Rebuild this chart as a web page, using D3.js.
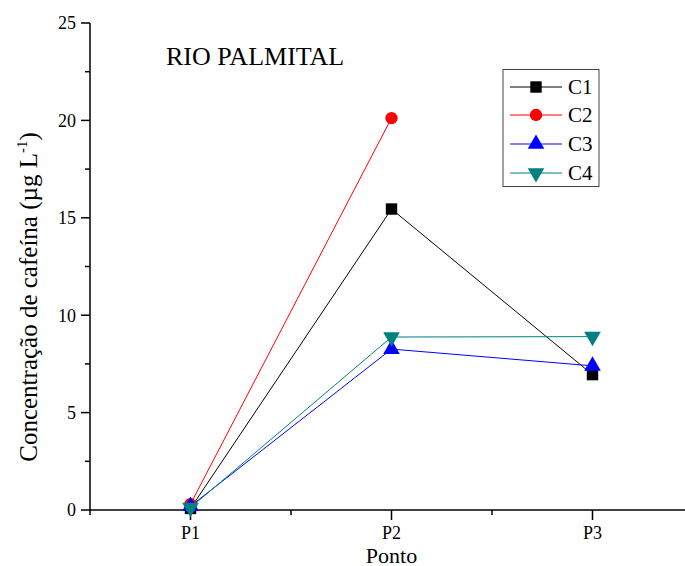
<!DOCTYPE html>
<html><head><meta charset="utf-8">
<script src="https://cdn.jsdelivr.net/npm/d3@7"></script>
<style>body{margin:0;background:#fff}svg{display:block}text{font-family:"Liberation Serif","Times New Roman",serif;fill:#000}</style>
</head><body>
<svg id="c" width="685" height="566"></svg>
<script>
const categories = ["P1","P2","P3"];
const seriesNames = ["C1","C2","C3","C4"];
const C1 = [0.08, 15.45, 6.95];
const C2 = [0.3, 20.12, null];
const C3 = [0.2, 8.26, 7.4];
const C4 = [0.12, 8.88, 8.9];
const yTicks = [0,5,10,15,20,25];
const colors = ["#000000","#ff0000","#0000ff","#008080"];
const symbols = [d3.symbolSquare, d3.symbolCircle, d3.symbolTriangle, "down"];
const values = [C1,C2,C3,C4];
const FF = "Liberation Serif";

const svg = d3.select("#c");
const x = d3.scaleLinear().domain([0.5,3.5]).range([90,693]);
const y = d3.scaleLinear().domain([0,25]).range([510,23]);

// y axis
const gy = svg.append("g").attr("transform","translate(90,0)");
gy.append("line").attr("x1",0).attr("x2",0).attr("y1",y(0)).attr("y2",y(25)).attr("stroke","#000").attr("stroke-width",1.5);
d3.range(0,25.01,2.5).forEach(v=>{
  const major = v%5===0;
  gy.append("line").attr("x1",0).attr("x2",major?-9:-5).attr("y1",y(v)).attr("y2",y(v)).attr("stroke","#000").attr("stroke-width",1.5);
});
gy.selectAll("text.yt").data(yTicks).join("text").attr("class","yt")
  .attr("x",-14).attr("y",d=>y(d)).attr("dy","0.35em").attr("text-anchor","end")
  .attr("font-family",FF).attr("font-size",18).attr("fill","#000").text(d=>d);

// x axis
const gx = svg.append("g").attr("transform","translate(0,510)");
gx.append("line").attr("x1",x(0.5)).attr("x2",x(3.5)).attr("stroke","#000").attr("stroke-width",1.5);
d3.range(0.5,3.51,0.5).forEach(v=>{
  const major = Number.isInteger(v);
  gx.append("line").attr("x1",x(v)).attr("x2",x(v)).attr("y1",0).attr("y2",major?10:5).attr("stroke","#000").attr("stroke-width",1.5);
});
gx.selectAll("text.xt").data(categories).join("text").attr("class","xt")
  .attr("x",(d,i)=>x(i+1)).attr("y",29).attr("text-anchor","middle")
  .attr("font-family",FF).attr("font-size",18).attr("fill","#000").text(d=>d);

// labels
svg.append("text").attr("x",x(2)).attr("y",563).attr("text-anchor","middle").attr("font-family",FF).attr("font-size",22).text("Ponto");
const yl = svg.append("text").attr("transform","translate(37,297) rotate(-90)").attr("text-anchor","middle").attr("font-family",FF).attr("font-size",25);
yl.append("tspan").text("Concentração de cafeína (µg L");
yl.append("tspan").attr("font-size",15).attr("dy",-10).text("-1");
yl.append("tspan").attr("dy",10).text(")");
svg.append("text").attr("x",166).attr("y",65).attr("font-family",FF).attr("font-size",26).text("RIO PALMITAL");

function sym(i, size){
  if(symbols[i]==="down") return d3.symbol().type(d3.symbolTriangle).size(size)();
  return d3.symbol().type(symbols[i]).size(size)();
}
const sizes = [130,120,120,120];

values.forEach((vals,i)=>{
  const pts = vals.map((v,j)=>({x:j+1,v})).filter(d=>d.v!==null);
  svg.append("path").datum(pts).attr("fill","none").attr("stroke",colors[i]).attr("stroke-width",1)
    .attr("d",d3.line().x(d=>x(d.x)).y(d=>y(d.v)));
});
values.forEach((vals,i)=>{
  vals.forEach((v,j)=>{
    if(v===null) return;
    svg.append("path").attr("d",sym(i,sizes[i]))
      .attr("transform",`translate(${x(j+1)},${y(v)})${symbols[i]==="down"?" rotate(180)":""}`)
      .attr("fill",colors[i]);
  });
});

// legend
const lg = svg.append("g");
lg.append("rect").attr("x",503).attr("y",69.5).attr("width",96).attr("height",117).attr("fill","#fff").attr("stroke","#444").attr("stroke-width",1);
const rowsY = [87,115,144,173];
seriesNames.forEach((n,i)=>{
  lg.append("line").attr("x1",510).attr("x2",562).attr("y1",rowsY[i]).attr("y2",rowsY[i]).attr("stroke",colors[i]).attr("stroke-width",1);
  lg.append("path").attr("d",sym(i,sizes[i])).attr("transform",`translate(536,${rowsY[i]})${symbols[i]==="down"?" rotate(180)":""}`).attr("fill",colors[i]);
  lg.append("text").attr("x",568).attr("y",rowsY[i]).attr("dy","0.35em").attr("font-family",FF).attr("font-size",21).text(n);
});
</script>
</body></html>
